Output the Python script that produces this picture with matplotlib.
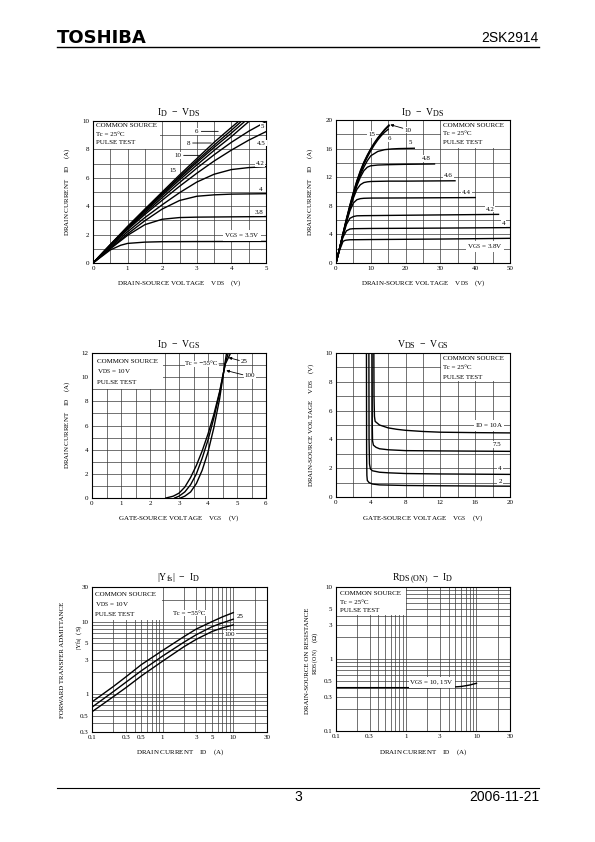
import matplotlib
matplotlib.use("Agg")
import matplotlib.pyplot as plt
from matplotlib import _mathtext
from matplotlib.lines import Line2D
from matplotlib.patches import Rectangle
from matplotlib.ticker import NullFormatter

# datasheet subscripts are only a little smaller than the base text
_mathtext.SHRINK_FACTOR = 0.82

W, H = 595, 842

# ---------- data ----------
# I_D - V_DS, 0..5 V (Tc = 25 C), one curve per V_GS
lo_v15 = ([0, 0.5, 1, 1.5, 2, 2.5, 3, 3.5, 4, 4.22], [0, 1.3, 2.58, 3.8, 5.0, 6.2, 7.35, 8.5, 9.55, 10.0])
lo_v10 = ([0, 0.5, 1, 1.5, 2, 2.5, 3, 3.5, 4, 4.3], [0, 1.28, 2.54, 3.74, 4.92, 6.08, 7.2, 8.3, 9.35, 10.0])
lo_v8 = ([0, 0.5, 1, 1.5, 2, 2.5, 3, 3.5, 4, 4.4], [0, 1.27, 2.51, 3.7, 4.85, 5.98, 7.08, 8.14, 9.15, 10.0])
lo_v6 = ([0, 0.5, 1, 1.5, 2, 2.5, 3, 3.5, 4, 4.52], [0, 1.25, 2.47, 3.63, 4.75, 5.85, 6.9, 7.93, 8.9, 10.0])
lo_v5 = ([0, 0.5, 1, 1.5, 2, 2.5, 3, 3.5, 4, 4.5, 5], [0, 1.23, 2.42, 3.53, 4.6, 5.66, 6.68, 7.62, 8.5, 9.28, 9.95])
lo_v45 = ([0, 0.5, 1, 1.5, 2, 2.5, 3, 3.5, 4, 4.5, 5], [0, 1.2, 2.35, 3.42, 4.42, 5.4, 6.32, 7.18, 7.95, 8.65, 9.25])
lo_v42 = ([0, 0.5, 1, 1.5, 2, 2.5, 3, 3.5, 4, 4.5, 5], [0, 1.12, 2.2, 3.2, 4.1, 4.95, 5.7, 6.25, 6.58, 6.72, 6.78])
lo_v40 = ([0, 0.5, 1, 1.5, 2, 2.5, 3, 3.5, 4, 5], [0, 1.05, 2.05, 2.98, 3.8, 4.4, 4.7, 4.8, 4.85, 4.88])
lo_v38 = ([0, 0.5, 1, 1.5, 2, 2.5, 3, 4, 5], [0, 1.0, 1.95, 2.7, 3.08, 3.2, 3.23, 3.25, 3.27])
lo_v35 = ([0, 0.5, 0.8, 1, 1.5, 2, 3, 5], [0, 0.92, 1.25, 1.38, 1.47, 1.5, 1.51, 1.52])

# I_D - V_DS, 0..50 V
hi_v15 = ([0, 1, 2, 3, 4, 5, 6, 7, 8, 9, 10, 11, 12, 13, 14, 15.2],
          [0, 2.0, 4.1, 6.2, 8.1, 9.9, 11.5, 12.9, 14.1, 15.1, 16.0, 16.8, 17.5, 18.1, 18.7, 19.3])
hi_v10 = ([0, 1, 2, 3, 4, 5, 6, 7, 8, 9, 10, 11, 12, 13, 14, 15.3],
          [0, 2.0, 4.1, 6.1, 8.0, 9.8, 11.4, 12.8, 14.0, 15.0, 15.9, 16.7, 17.4, 18.0, 18.6, 19.2])
hi_v6 = ([0, 1, 2, 3, 4, 5, 6, 7, 8, 9, 10, 11, 12, 13, 14, 15],
         [0, 2.0, 4.0, 6.0, 7.9, 9.6, 11.2, 12.6, 13.8, 14.8, 15.7, 16.5, 17.2, 17.8, 18.3, 18.7])
hi_v5 = ([0, 1, 2, 3, 4, 5, 6, 7, 8, 9, 10, 12, 14, 16, 18, 22.5],
         [0, 2.0, 4.0, 5.9, 7.8, 9.5, 11.0, 12.3, 13.4, 14.3, 15.0, 15.6, 15.85, 15.95, 16.0, 16.05])
hi_v48 = ([0, 1, 2, 3, 4, 5, 6, 7, 8, 9, 10, 12, 15, 20, 28.3],
          [0, 1.95, 3.95, 5.85, 7.7, 9.3, 10.8, 12.0, 12.9, 13.4, 13.6, 13.7, 13.75, 13.8, 13.85])
hi_v46 = ([0, 1, 2, 3, 4, 5, 6, 7, 8, 9, 10, 15, 20, 34.2],
          [0, 1.95, 3.9, 5.8, 7.6, 9.1, 10.3, 10.95, 11.25, 11.35, 11.4, 11.45, 11.45, 11.5])
hi_v44 = ([0, 1, 2, 3, 4, 5, 6, 7, 8, 10, 20, 40],
          [0, 1.9, 3.85, 5.7, 7.3, 8.4, 8.85, 9.0, 9.05, 9.08, 9.1, 9.15])
hi_v42 = ([0, 1, 2, 3, 4, 5, 6, 8, 20, 46.7], [0, 1.9, 3.8, 5.4, 6.25, 6.5, 6.6, 6.62, 6.68, 6.8])
hi_v40 = ([0, 1, 2, 3, 4, 5, 10, 30, 50], [0, 1.85, 3.6, 4.5, 4.75, 4.8, 4.83, 4.88, 4.95])
hi_v38 = ([0, 1, 2, 2.5, 3, 4, 10, 30, 50], [0, 1.75, 3.0, 3.15, 3.2, 3.25, 3.28, 3.35, 3.45])

# I_D - V_GS, V_DS = 10 V
tc_m55 = ([3.05, 3.2, 3.4, 3.6, 3.8, 4.0, 4.2, 4.4, 4.5, 4.6, 4.64],
          [0, 0.15, 0.5, 1.2, 2.3, 3.8, 5.8, 8.2, 9.8, 11.4, 12.0])
tc_25 = ([2.85, 3.0, 3.2, 3.4, 3.6, 3.8, 4.0, 4.2, 4.4, 4.5, 4.6, 4.7],
         [0, 0.15, 0.5, 1.1, 2.0, 3.3, 4.8, 6.6, 8.7, 9.9, 11.2, 12.0])
tc_100 = ([2.55, 2.8, 3.0, 3.2, 3.4, 3.6, 3.8, 4.0, 4.2, 4.4, 4.5, 4.6, 4.78],
          [0, 0.15, 0.4, 0.9, 1.7, 2.7, 3.9, 5.3, 6.9, 8.8, 10.0, 11.1, 12.0])

# V_DS - V_GS, one curve per I_D
id_2 = ([3.5, 3.52, 3.55, 3.6, 3.8, 4.2, 5, 8, 12, 20], [10, 3.0, 1.5, 1.15, 1.0, 0.9, 0.84, 0.8, 0.78, 0.75])
id_4 = ([3.78, 3.8, 3.85, 3.95, 4.2, 5, 6, 8, 12, 20], [10, 4.0, 2.3, 1.95, 1.82, 1.72, 1.68, 1.63, 1.6, 1.57])
id_75 = ([4.15, 4.17, 4.2, 4.3, 4.6, 5, 6, 8, 12, 20], [10, 5.0, 3.9, 3.6, 3.45, 3.35, 3.28, 3.22, 3.2, 3.17])
id_10 = ([4.35, 4.37, 4.42, 4.5, 5, 6, 7, 8, 10, 12, 16, 20],
         [10, 7.0, 5.6, 5.25, 5.0, 4.8, 4.7, 4.63, 4.55, 4.5, 4.47, 4.45])

# |Yfs| - I_D
yfs_id = [0.1, 0.2, 0.3, 0.5, 1, 2, 3, 5, 7, 10]
yfs_m55 = [0.78, 1.27, 1.72, 2.55, 4.0, 6.2, 7.9, 10.0, 11.6, 13.3]
yfs_25 = [0.66, 1.08, 1.45, 2.1, 3.35, 5.2, 6.6, 8.5, 9.6, 10.8]
yfs_100 = [0.57, 0.92, 1.22, 1.78, 2.85, 4.5, 5.7, 7.3, 8.2, 9.0]

# R_DS(ON) - I_D
rds_id = [0.1, 0.5, 1, 2, 4, 5, 6, 7, 8, 10]
rds_on = [0.40, 0.40, 0.40, 0.40, 0.405, 0.41, 0.415, 0.425, 0.435, 0.46]

# ---------- figure ----------
plt.rcParams["font.family"] = ["Liberation Serif", "DejaVu Serif"]
plt.rcParams["font.size"] = 5

fig = plt.figure(figsize=(W / 100, H / 100), dpi=100)

GRID = dict(color="#3a3a3a", linewidth=0.5)
LW = 1.0
WHITE = dict(facecolor="white", edgecolor="none", pad=0.6)


def px_box(x0, y0, x1, y1):
    return [x0 / W, 1 - y1 / H, (x1 - x0) / W, (y1 - y0) / H]


def ptext(x, y, s, **kw):
    kw.setdefault("ha", "center")
    kw.setdefault("va", "center")
    return fig.text(x / W, 1 - y / H, s, **kw)


def hline(x0, x1, y, lw=1.0):
    fig.add_artist(Line2D([x0 / W, x1 / W], [1 - y / H, 1 - y / H], color="black", lw=lw))


def make_axes(box, xlim, ylim, xmaj, xmin, ymaj, ymin, log=False):
    ax = fig.add_axes(px_box(*box))
    if log:
        ax.set_xscale("log")
        ax.set_yscale("log")
    ax.set_xlim(*xlim)
    ax.set_ylim(*ylim)
    ax.set_xticks(xmaj, [f"{v:g}" for v in xmaj])
    ax.set_yticks(ymaj, [f"{v:g}" for v in ymaj])
    ax.set_xticks(xmin, minor=True)
    ax.set_yticks(ymin, minor=True)
    ax.xaxis.set_minor_formatter(NullFormatter())
    ax.yaxis.set_minor_formatter(NullFormatter())
    ax.set_axisbelow(True)
    ax.grid(True, which="both", **GRID)
    ax.tick_params(which="both", length=0, pad=2.5, labelsize=5)
    for sp in ax.spines.values():
        sp.set_linewidth(0.8)
    return ax


def info_box(ax, rect, x, ys, lines):
    ax.add_patch(Rectangle(rect[:2], rect[2], rect[3], facecolor="white", edgecolor="none", zorder=1.5))
    for y, s in zip(ys, lines):
        ax.text(x, y, s, ha="left", va="center", fontsize=5, zorder=3)


def curve(ax, xy):
    ax.plot(xy[0], xy[1], color="black", lw=LW, solid_joinstyle="round", zorder=2)


def tag(ax, x, y, s, **kw):
    ax.text(x, y, s, ha="center", va="center", fontsize=5, bbox=WHITE, zorder=3, **kw)


def lead(ax, p0, p1, head=False):
    style = "-|>" if head else "-"
    ax.annotate("", xy=p1, xytext=p0,
                arrowprops=dict(arrowstyle=style, color="black", lw=0.6, mutation_scale=4,
                                shrinkA=0, shrinkB=0), zorder=3)


COMMON = "COMMON SOURCE"
TC25 = "Tc = 25°C"
PULSE = "PULSE TEST"
VDS10 = r"$\mathregular{V_{DS}}$ = 10V"

# header / footer
ptext(57, 38, "TOSHIBA", ha="left", family="DejaVu Sans", weight="bold", fontsize=13)
ptext(539, 38, "2SK2914", ha="right", family="Liberation Sans", fontsize=10)
hline(57, 539, 47, lw=1.0)
hline(57, 539, 788, lw=0.8)
ptext(298, 797, "3", family="Liberation Sans", fontsize=10)
ptext(539, 797, "2006-11-21", ha="right", family="Liberation Sans", fontsize=10)

# ---- 1: I_D - V_DS (0..5 V) ----
ax1 = make_axes((93, 121, 266, 263), (0, 5), (0, 10),
                [0, 1, 2, 3, 4, 5], [0.5, 1.5, 2.5, 3.5, 4.5],
                [0, 2, 4, 6, 8, 10], [1, 3, 5, 7, 9])
for xy in [lo_v15, lo_v10, lo_v8, lo_v6, lo_v5, lo_v45, lo_v42, lo_v40, lo_v38, lo_v35]:
    curve(ax1, xy)
info_box(ax1, (0, 8.05, 1.95, 1.95), 0.08, [9.68, 9.08, 8.47], [COMMON, TC25, PULSE])
tag(ax1, 3.0, 9.27, "6")
lead(ax1, (3.13, 9.27), (3.62, 9.27))
tag(ax1, 2.75, 8.45, "8")
lead(ax1, (2.88, 8.45), (3.42, 8.45))
tag(ax1, 2.45, 7.58, "10")
lead(ax1, (2.62, 7.58), (3.1, 7.58))
tag(ax1, 2.32, 6.53, "15")
tag(ax1, 4.9, 9.6, "5")
tag(ax1, 4.87, 8.45, "4.5")
tag(ax1, 4.83, 7.0, "4.2")
tag(ax1, 4.85, 5.2, "4")
tag(ax1, 4.8, 3.55, "3.8")
tag(ax1, 4.3, 1.95, r"$\mathregular{V_{GS}}$ = 3.5V")
ptext(179, 113, r"$\mathregular{I_D}$  −  $\mathregular{V_{DS}}$", fontsize=7)
ptext(179, 283, r"DRAIN-SOURCE VOLTAGE    $\mathregular{V_{DS}}$    (V)", fontsize=5)
ptext(67, 192, r"DRAIN CURRENT    $\mathregular{I_D}$    (A)", fontsize=5, rotation=90)

# ---- 2: I_D - V_DS (0..50 V) ----
ax2 = make_axes((336, 120, 510, 263), (0, 50), (0, 20),
                [0, 10, 20, 30, 40, 50], [5, 15, 25, 35, 45],
                [0, 4, 8, 12, 16, 20], [2, 6, 10, 14, 18])
for xy in [hi_v15, hi_v10, hi_v6, hi_v5, hi_v48, hi_v46, hi_v44, hi_v42, hi_v40, hi_v38]:
    curve(ax2, xy)
info_box(ax2, (30.2, 16.1, 19.8, 3.9), 30.8, [19.3, 18.1, 16.85], [COMMON, TC25, PULSE])
tag(ax2, 10.2, 18.0, "15")
tag(ax2, 15.4, 17.4, "6")
tag(ax2, 20.6, 18.6, "10")
lead(ax2, (19.2, 18.85), (15.6, 19.35), head=True)
tag(ax2, 21.3, 16.8, "5")
tag(ax2, 26.0, 14.6, "4.8")
tag(ax2, 32.3, 12.2, "4.6")
tag(ax2, 37.5, 9.8, "4.4")
tag(ax2, 44.3, 7.55, "4.2")
tag(ax2, 48.1, 5.55, "4")
tag(ax2, 42.8, 2.3, r"$\mathregular{V_{GS}}$ = 3.8V")
ptext(423, 113, r"$\mathregular{I_D}$  −  $\mathregular{V_{DS}}$", fontsize=7)
ptext(423, 283, r"DRAIN-SOURCE VOLTAGE    $\mathregular{V_{DS}}$    (V)", fontsize=5)
ptext(310, 192, r"DRAIN CURRENT    $\mathregular{I_D}$    (A)", fontsize=5, rotation=90)

# ---- 3: I_D - V_GS ----
ax3 = make_axes((92, 353, 266, 498), (0, 6), (0, 12),
                [0, 1, 2, 3, 4, 5, 6], [0.5, 1.5, 2.5, 3.5, 4.5, 5.5],
                [0, 2, 4, 6, 8, 10, 12], [1, 3, 5, 7, 9, 11])
for xy in [tc_m55, tc_25, tc_100]:
    curve(ax3, xy)
info_box(ax3, (0, 9.05, 2.45, 2.95), 0.16, [11.26, 10.5, 9.6], [COMMON, VDS10, PULSE])
tag(ax3, 3.78, 11.1, "Tc = −55°C")
lead(ax3, (4.38, 11.1), (4.57, 11.1))
tag(ax3, 5.24, 11.27, "25")
lead(ax3, (5.08, 11.38), (4.71, 11.62), head=True)
tag(ax3, 5.45, 10.1, "100")
lead(ax3, (5.2, 10.2), (4.63, 10.55), head=True)
ptext(179, 345, r"$\mathregular{I_D}$  −  $\mathregular{V_{GS}}$", fontsize=7)
ptext(179, 518, r"GATE-SOURCE VOLTAGE    $\mathregular{V_{GS}}$    (V)", fontsize=5)
ptext(67, 425, r"DRAIN CURRENT    $\mathregular{I_D}$    (A)", fontsize=5, rotation=90)

# ---- 4: V_DS - V_GS ----
ax4 = make_axes((336, 353, 510, 497), (0, 20), (0, 10),
                [0, 4, 8, 12, 16, 20], [2, 6, 10, 14, 18],
                [0, 2, 4, 6, 8, 10], [1, 3, 5, 7, 9])
for xy in [id_2, id_4, id_75, id_10]:
    curve(ax4, xy)
info_box(ax4, (12.1, 8.05, 7.9, 1.95), 12.3, [9.65, 8.96, 8.31], [COMMON, TC25, PULSE])
tag(ax4, 17.6, 4.98, r"$\mathregular{I_D}$ = 10A")
tag(ax4, 18.5, 3.63, "7.5")
tag(ax4, 18.85, 1.97, "4")
tag(ax4, 18.85, 1.09, "2")
ptext(423, 345, r"$\mathregular{V_{DS}}$  −  $\mathregular{V_{GS}}$", fontsize=7)
ptext(423, 518, r"GATE-SOURCE VOLTAGE    $\mathregular{V_{GS}}$    (V)", fontsize=5)
ptext(311, 425, r"DRAIN-SOURCE VOLTAGE    $\mathregular{V_{DS}}$    (V)", fontsize=5, rotation=90)

# ---- log grids ----
log_x_minor = [0.2, 0.4, 0.6, 0.7, 0.8, 0.9, 2, 4, 6, 7, 8, 9, 20]

# ---- 5: |Yfs| - I_D ----
ax5 = make_axes((92, 587, 267, 732), (0.1, 30), (0.3, 30),
                [0.1, 0.3, 0.5, 1, 3, 5, 10, 30], log_x_minor,
                [0.3, 0.5, 1, 3, 5, 10, 30], [0.4, 0.6, 0.7, 0.8, 0.9, 2, 4, 6, 7, 8, 9, 20],
                log=True)
for ys in [yfs_m55, yfs_25, yfs_100]:
    curve(ax5, (yfs_id, ys))
info_box(ax5, (0.1, 10.5, 0.88, 19.5), 0.109, [23.5, 17.4, 12.4], [COMMON, VDS10, PULSE])
tag(ax5, 2.4, 13.1, "Tc = −55°C")
tag(ax5, 12.4, 11.8, "25")
tag(ax5, 9.0, 6.6, "100")
ptext(179, 578, r"$\mathregular{|Y_{fs}|}$  −  $\mathregular{I_D}$", fontsize=7)
ptext(180, 752, r"DRAIN CURRENT    $\mathregular{I_D}$    (A)", fontsize=5)
ptext(63, 660, "FORWARD TRANSFER ADMITTANCE", fontsize=5, rotation=90)
ptext(79, 637, r"$\mathregular{|Y_{fs}|}$  (S)", fontsize=5, rotation=90)

# ---- 6: R_DS(ON) - I_D ----
ax6 = make_axes((336, 587, 510, 731), (0.1, 30), (0.1, 10),
                [0.1, 0.3, 1, 3, 10, 30], [0.2, 0.4, 0.5, 0.6, 0.7, 0.8, 0.9, 2, 4, 5, 6, 7, 8, 9, 20],
                [0.1, 0.3, 0.5, 1, 3, 5, 10], [0.2, 0.4, 0.6, 0.7, 0.8, 0.9, 2, 4, 6, 7, 8, 9],
                log=True)
curve(ax6, (rds_id, rds_on))
info_box(ax6, (0.1, 4.05, 0.88, 5.95), 0.115, [8.0, 6.12, 4.69], [COMMON, TC25, PULSE])
tag(ax6, 2.3, 0.47, r"$\mathregular{V_{GS}}$ = 10, 15V")
ptext(423, 578, r"$\mathregular{R_{DS\,(ON)}}$  −  $\mathregular{I_D}$", fontsize=7)
ptext(423, 752, r"DRAIN CURRENT    $\mathregular{I_D}$    (A)", fontsize=5)
ptext(307, 661, "DRAIN-SOURCE ON RESISTANCE", fontsize=5, rotation=90)
ptext(316, 653, r"$\mathregular{R_{DS\,(ON)}}$    (Ω)", fontsize=5, rotation=90)

fig.savefig("out.png", dpi=100, facecolor="white")
